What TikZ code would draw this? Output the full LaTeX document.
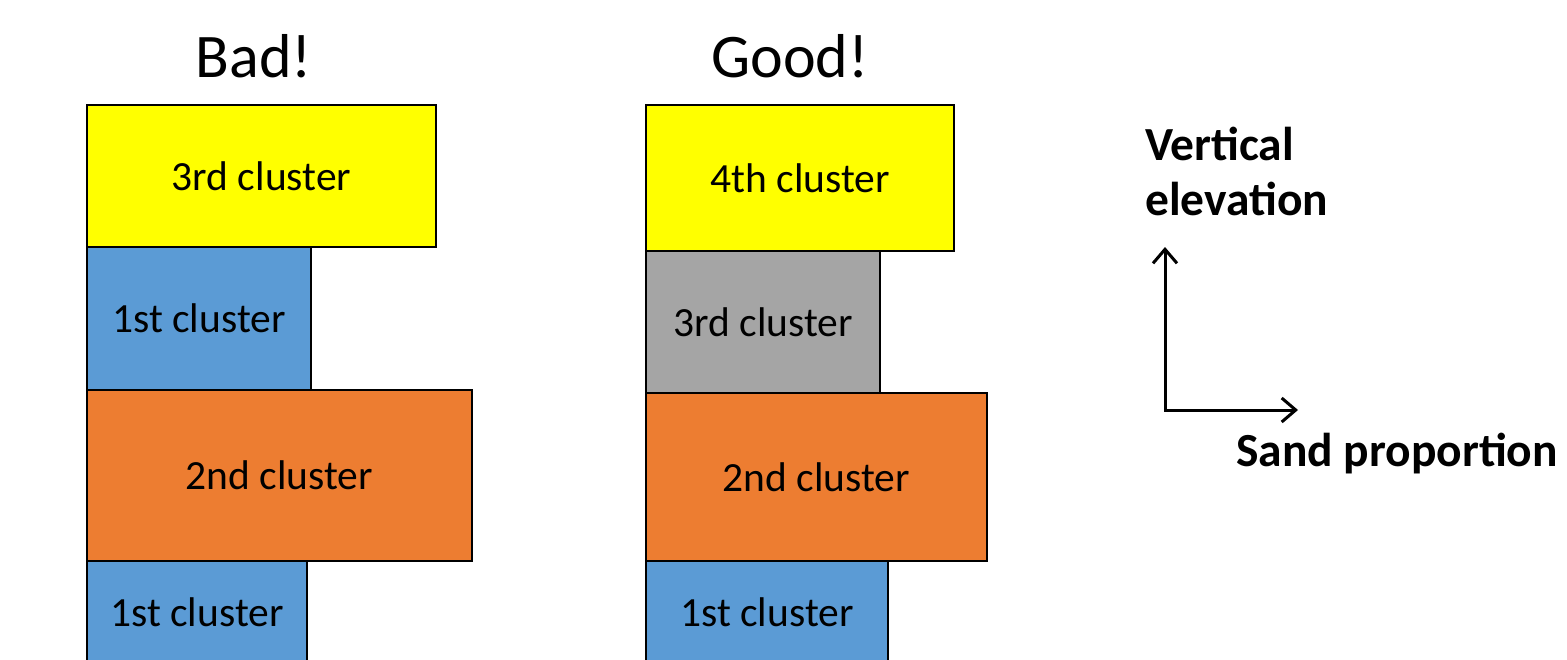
\documentclass[tikz,border=0pt]{standalone}
\usepackage{fontspec}
\setmainfont{Carlito}
\usetikzlibrary{arrows.meta}
\definecolor{cyel}{HTML}{FFFF00}
\definecolor{cblue}{HTML}{5B9BD5}
\definecolor{corange}{HTML}{ED7D31}
\definecolor{cgray}{HTML}{A5A5A5}
\begin{document}
\begin{tikzpicture}[x=1pt,y=-1pt,
  cbox/.style={draw=black,line width=2.5pt,inner sep=0pt,anchor=center,
    font=\fontsize{41.5}{48}\selectfont},
  title/.style={anchor=base,inner sep=0pt,font=\fontsize{62}{70}\selectfont},
  axlabel/.style={inner sep=0pt,align=left,font=\fontsize{47.5}{55}\selectfont\bfseries},
  axis/.style={line width=3pt,{Straight Barb[length=14pt,width=24pt]}-{Straight Barb[length=14pt,width=24pt]}}]
\useasboundingbox (0,0) rectangle (1567,659);
\clip (0,0) rectangle (1567,659);
% titles
\node[title] (bad) at (254,77) {Bad!};
\node[title] (good) at (790,77) {Good!};
% bad column
\node[cbox,fill=cyel,minimum width=349pt,minimum height=142pt] (b3) at (261.5,176) {3rd cluster};
\node[cbox,fill=cblue,minimum width=224pt,minimum height=143pt] (b1a) at (199,318.5) {1st cluster};
\node[cbox,fill=corange,minimum width=385pt,minimum height=171pt] (b2) at (279.5,475.5) {2nd cluster};
\node[cbox,fill=cblue,minimum width=220pt,minimum height=102pt] (b1b) at (197,612) {1st cluster};
% good column
\node[cbox,fill=cyel,minimum width=308pt,minimum height=146pt] (g4) at (800,178) {4th cluster};
\node[cbox,fill=cgray,minimum width=234pt,minimum height=142pt] (g3) at (763,322) {3rd cluster};
\node[cbox,fill=corange,minimum width=341pt,minimum height=168pt] (g2) at (816.5,477) {2nd cluster};
\node[cbox,fill=cblue,minimum width=242pt,minimum height=102pt] (g1) at (767,612) {1st cluster};
% axes
\coordinate (o) at (1165,410);
\coordinate (yt) at (1165,247);
\coordinate (xt) at (1298,410);
\draw[axis] (yt) -- (o) -- (xt);
\node[axlabel,anchor=base west] (vel) at (1145,215) {Vertical\\elevation};
\node[axlabel,anchor=base west] (sp) at (1236,466) {Sand proportion};
\end{tikzpicture}
\end{document}
